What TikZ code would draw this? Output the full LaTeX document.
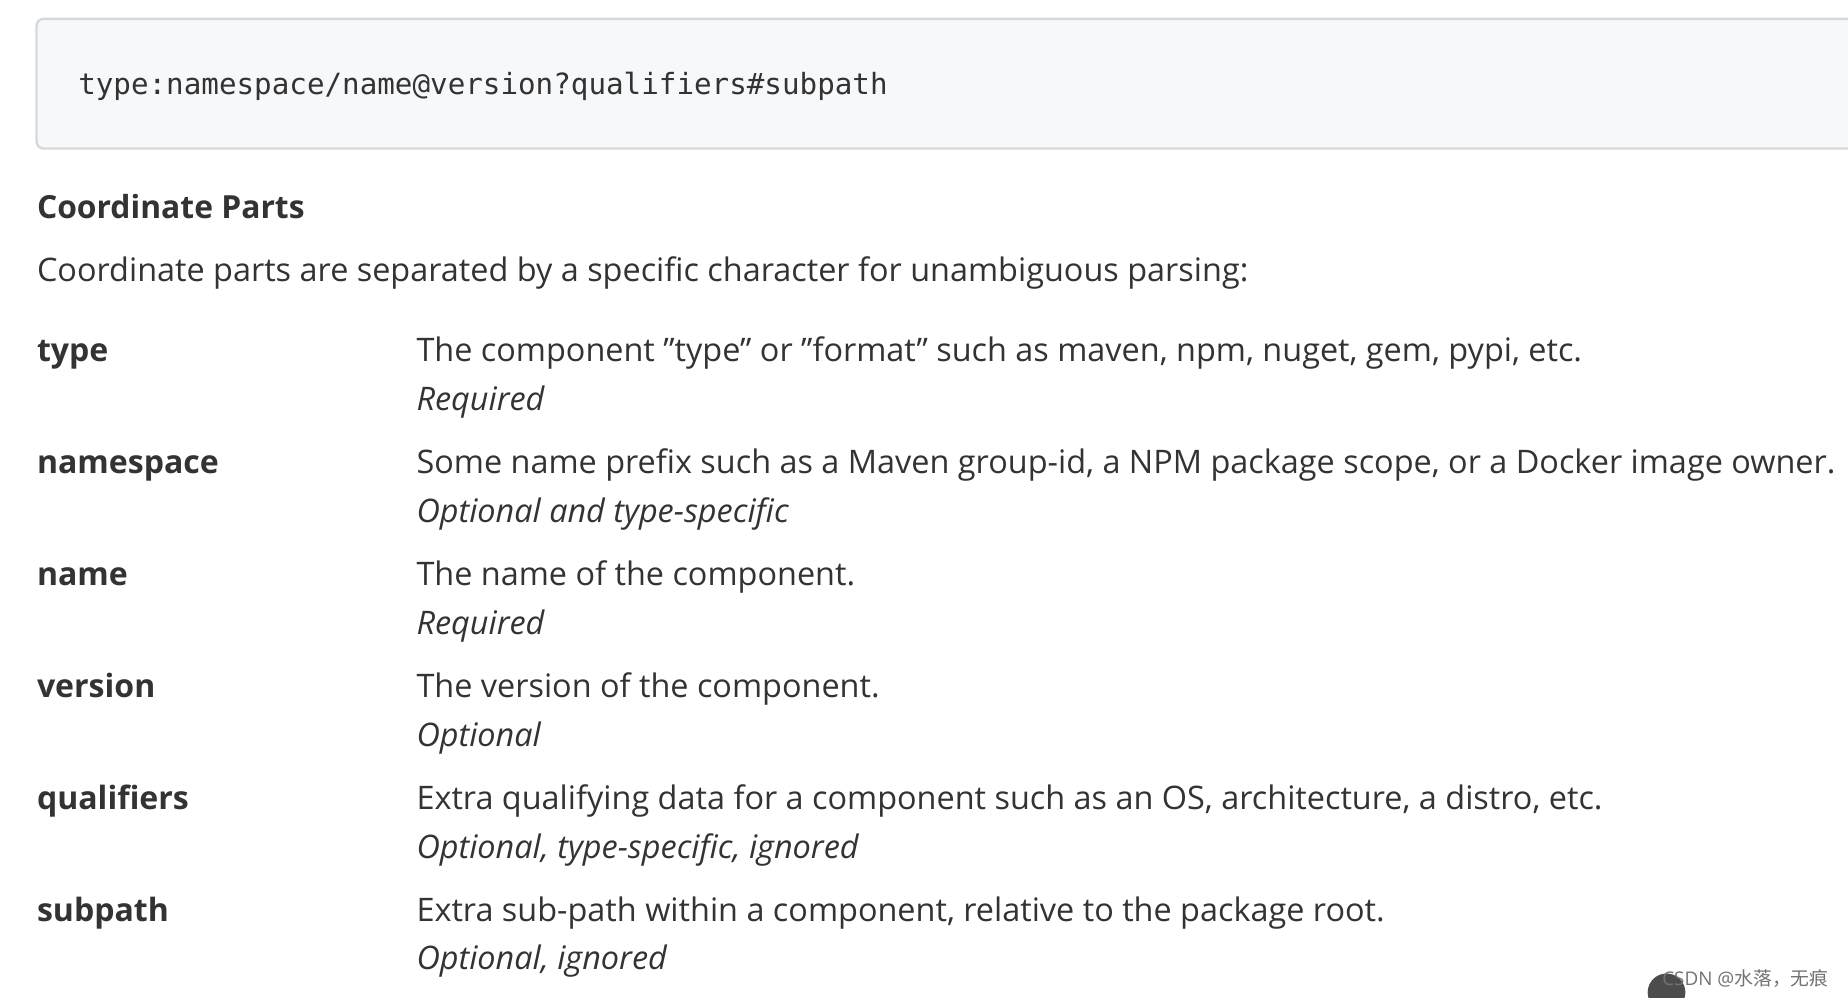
\documentclass[tikz,border=0pt]{standalone}
\usepackage{fontspec}
\setmainfont{Open Sans}
\setmonofont{DejaVu Sans Mono}
\newfontfamily\cjk{Noto Sans CJK SC}
\definecolor{txt}{HTML}{333333}
\definecolor{codebg}{HTML}{F6F8FA}
\definecolor{codeln}{HTML}{D5D9DE}
\newcommand{\dq}{\char34 }
\begin{document}
\begin{tikzpicture}[x=0.5pt,y=-0.5pt,
  lab/.style={anchor=base west,inner sep=0,text=txt,font=\fontsize{13.6}{16}\selectfont\bfseries},
  desc/.style={anchor=base west,inner sep=0,text=txt,font=\fontsize{13.75}{16}\selectfont},
  req/.style={anchor=base west,inner sep=0,text=txt,font=\fontsize{13.75}{16}\selectfont\itshape}]
\useasboundingbox (0,0) rectangle (1568,846);
\fill[white] (0,0) rectangle (1568,846);
\draw[codeln,fill=codebg,line width=1pt,rounded corners=3pt] (31,16) rectangle (1600,126);
\node[anchor=base west,inner sep=0,text=txt,font=\fontsize{12.4}{16}\selectfont\ttfamily] (code) at (66,80) {type:namespace/name@version?qualifiers\#subpath};
\node[lab,font=\fontsize{13.5}{16}\selectfont\bfseries] (head) at (31,185) {Coordinate Parts};
\node[desc] (intro) at (31,239) {Coordinate parts are separated by a specific character for unambiguous parsing:};
\foreach \i/\l/\d/\r in {0/type/{The component \dq type\dq{} or \dq format\dq{} such as maven, npm, nuget, gem, pypi, etc.}/Required,
 1/namespace/{Some name prefix such as a Maven group-id, a NPM package scope, or a Docker image owner.}/{Optional and type-specific},
 2/name/{The name of the component.}/Required,
 3/version/{The version of the component.}/Optional,
 4/qualifiers/{Extra qualifying data for a component such as an OS, architecture, a distro, etc.}/{Optional, type-specific, ignored},
 5/subpath/{Extra sub-path within a component, relative to the package root.}/{Optional, ignored}}{
  \node[lab] (l\i) at (31,307+95*\i) {\l};
  \node[desc] (d\i) at (353,307+95*\i) {\d};
  \node[req] (r\i) at (353,348+95*\i) {\r};
}
\fill[black!70] (1414,842) circle (16);
\node[anchor=base west,inner sep=0,text=black!55,font=\fontsize{8}{9}\selectfont] (wm) at (1410,836) {CSDN @{\cjk 水落，无痕}};
\end{tikzpicture}
\end{document}
